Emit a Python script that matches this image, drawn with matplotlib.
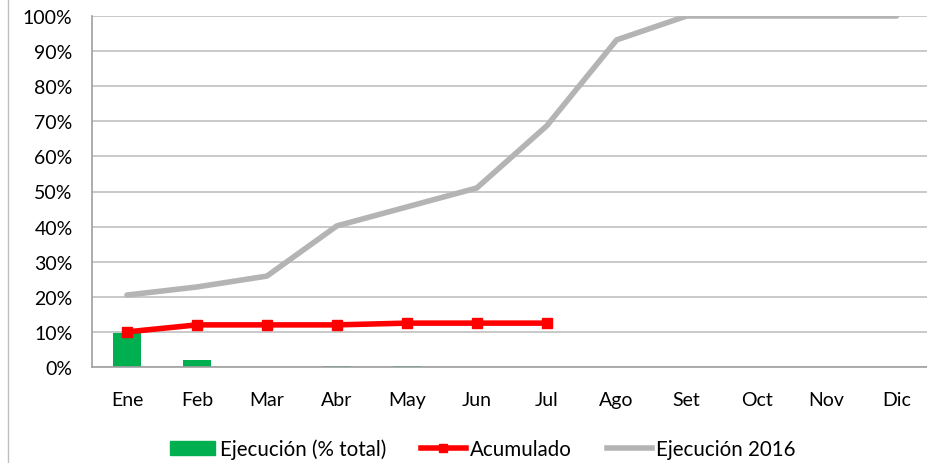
import matplotlib.pyplot as plt
import numpy as np
from matplotlib.ticker import PercentFormatter
from matplotlib.lines import Line2D
from matplotlib.patches import Patch

plt.rcParams['font.family'] = ['Lato', 'DejaVu Sans']

meses = ["Ene", "Feb", "Mar", "Abr", "May", "Jun", "Jul", "Ago", "Set", "Oct", "Nov", "Dic"]
ejecucion = [9.7, 2.0, 0.0, 0.2, 0.2, 0.0, 0.0]
acumulado = [10.0, 12.0, 12.0, 12.0, 12.5, 12.5, 12.5]
ejec_2016 = [20.5, 22.8, 25.9, 40.2, 45.6, 51.0, 68.7, 93.2, 100, 100, 100, 100]

fig = plt.figure(figsize=(9.28, 4.64), dpi=100)
ax = fig.add_axes([92 / 928, 1 - 368 / 464, 1 - 92 / 928, (368 - 17) / 464])

x = np.arange(len(meses))
ax.bar(x[:len(ejecucion)], ejecucion, width=0.4, color="#00b050", zorder=2)
ax.plot(x, ejec_2016, color="#b4b4b4", lw=4, solid_capstyle="round", zorder=3)
ax.plot(x[:len(acumulado)], acumulado, color="#ff0000", lw=4, marker="s", ms=7, zorder=4)

ax.set_ylim(0, 100)
ax.set_xlim(-0.5, 11.45)
ax.set_yticks(np.arange(0, 101, 10))
ax.yaxis.set_major_formatter(PercentFormatter(decimals=0))
ax.set_xticks(x)
ax.set_xticklabels(meses)
ax.tick_params(length=0, labelsize=14, colors="#000000")
ax.tick_params(axis="y", pad=14)
ax.tick_params(axis="x", pad=17)
ax.grid(axis="y", color="#c0c0c0", lw=1.2, zorder=0)
ax.set_axisbelow(True)
for s in ["top", "right"]:
    ax.spines[s].set_visible(False)
for s in ["left", "bottom"]:
    ax.spines[s].set_color("#a0a0a0")
    ax.spines[s].set_linewidth(1.2)

handles = [
    Patch(color="#00b050"),
    Line2D([], [], color="#ff0000", lw=4, marker="s", ms=6),
    Line2D([], [], color="#b4b4b4", lw=4),
]
labels = ["Ejecución (% total)", "Acumulado", "Ejecución 2016"]
fig.legend(handles, labels, loc="center", bbox_to_anchor=(483 / 928, 1 - 450 / 464), ncol=3,
           frameon=False, fontsize=14.8, handlelength=2.2, handletextpad=0.2, columnspacing=1.7)

# chart border on the left
fig.add_artist(Line2D([8 / 928, 8 / 928], [0, 1], color="#c0c0c0", lw=1, transform=fig.transFigure))

fig.savefig("out.png", dpi=100)
